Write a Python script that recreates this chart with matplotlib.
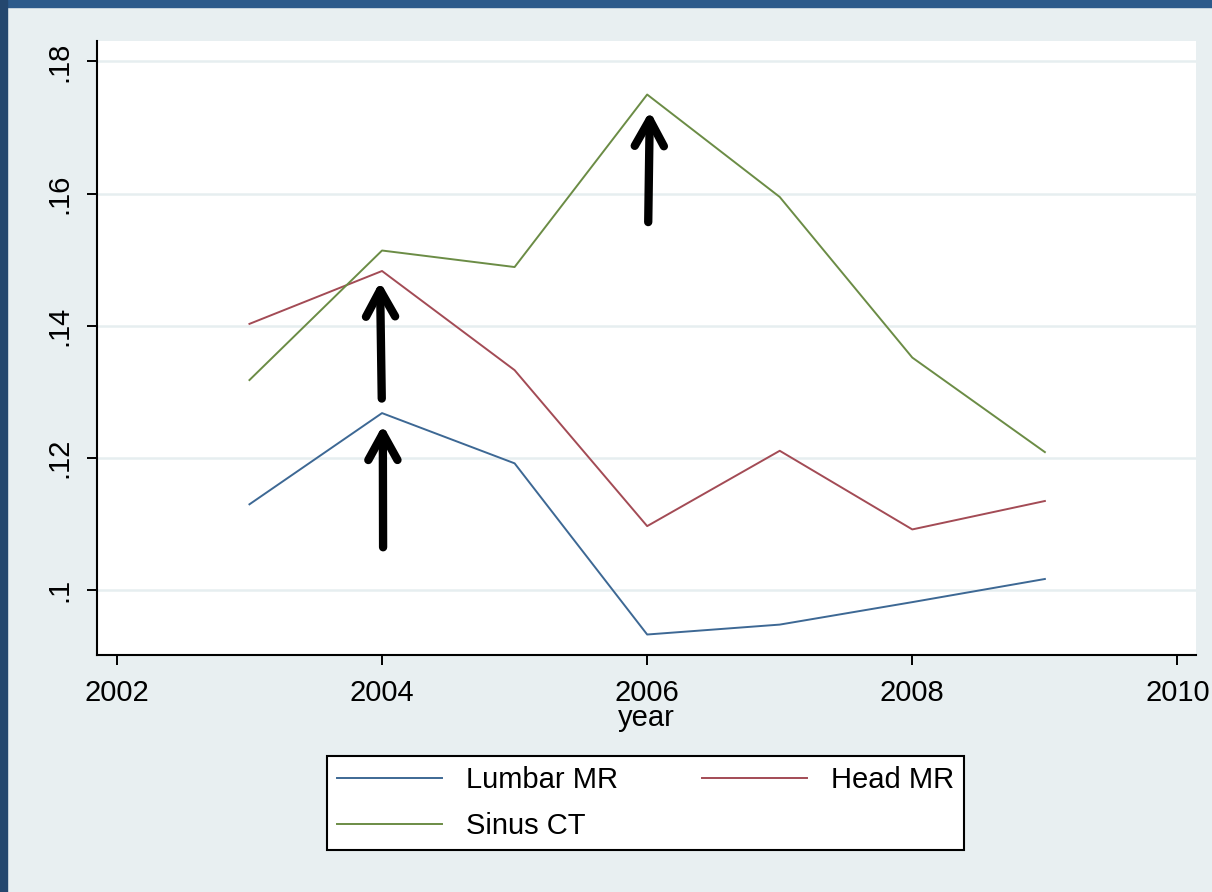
import matplotlib
matplotlib.use('Agg')
import matplotlib.pyplot as plt
from matplotlib.patches import Rectangle

plt.rcParams['font.family'] = ['Liberation Sans', 'DejaVu Sans']

# datos por año
years = [2003, 2004, 2005, 2006, 2007, 2008, 2009]
lumbar_mr = [0.1130, 0.1268, 0.1192, 0.0933, 0.0948, 0.0982, 0.1017]
head_mr = [0.1403, 0.1483, 0.1333, 0.1097, 0.1211, 0.1092, 0.1135]
sinus_ct = [0.1318, 0.1514, 0.1489, 0.1750, 0.1595, 0.1352, 0.1209]

x_ticks = [2002, 2004, 2006, 2008, 2010]
y_ticks = [0.10, 0.12, 0.14, 0.16, 0.18]
y_labels = ['.1', '.12', '.14', '.16', '.18']

# flechas: (inicio, punta)
flechas = [((2004.008, 0.1065), (2004.006, 0.1250)),
           ((2003.998, 0.1290), (2003.985, 0.1467)),
           ((2006.008, 0.1557), (2006.020, 0.1725))]

fondo = '#e8eff1'
fig = plt.figure(figsize=(12.12, 8.92), dpi=100, facecolor=fondo)

# marco oscuro arriba y a la izquierda
fig.patches.append(Rectangle((0, 1 - 7 / 892), 1, 7 / 892, transform=fig.transFigure,
                             color='#2c5a8b', zorder=0))
fig.patches.append(Rectangle((0, 0), 7 / 1212, 1, transform=fig.transFigure,
                             color='#24476e', zorder=0))

ax = fig.add_axes([97 / 1212, 237 / 892, 1099 / 1212, 614 / 892])
ax.set_facecolor('white')

l1, = ax.plot(years, lumbar_mr, color='#3d6894', lw=1.4, label='Lumbar MR')
l2, = ax.plot(years, head_mr, color='#a34b55', lw=1.4, label='Head MR')
l3, = ax.plot(years, sinus_ct, color='#6b8c45', lw=1.4, label='Sinus CT')

for (x0, y0), (x1, y1) in flechas:
    ax.annotate('', xy=(x1, y1), xytext=(x0, y0),
                arrowprops=dict(arrowstyle='->, head_length=1.9, head_width=1.05',
                                color='black', lw=6, shrinkA=0, shrinkB=0,
                                capstyle='round', joinstyle='round'))

ax.set_xlim(2001.85, 2010.14)
ax.set_ylim(0.0902, 0.1831)
ax.set_xticks(x_ticks)
ax.set_yticks(y_ticks)
ax.set_yticklabels(y_labels, rotation=90, va='center')
ax.grid(axis='y', color='#e6eef0', lw=1.8)
ax.set_axisbelow(True)

for lado in ['top', 'right']:
    ax.spines[lado].set_visible(False)
for lado in ['left', 'bottom']:
    ax.spines[lado].set_linewidth(1.5)
    ax.spines[lado].set_color('black')

ax.tick_params(axis='both', length=7, width=1.4, labelsize=21, color='black')
ax.tick_params(axis='x', pad=10)
ax.tick_params(axis='y', pad=10)
ax.set_xlabel('year', fontsize=21, labelpad=-2)

# orden por filas: Lumbar, Head / Sinus
leg = fig.legend([l1, l3, l2], ['Lumbar MR', 'Sinus CT', 'Head MR'],
                 loc='center', bbox_to_anchor=(645.5 / 1212, 1 - 803 / 892), ncol=2,
                 fontsize=21, frameon=True, fancybox=False, edgecolor='black',
                 framealpha=1, handlelength=3.6, columnspacing=2.9, labelspacing=0.6,
                 borderpad=0.35, handletextpad=0.8, borderaxespad=0)
leg.get_frame().set_linewidth(1.5)

fig.savefig('out.png', dpi=100, facecolor=fondo)
